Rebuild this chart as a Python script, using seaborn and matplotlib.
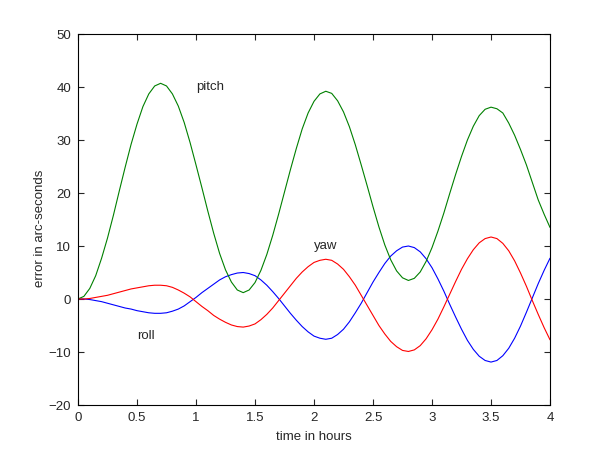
import numpy as np
import pandas as pd
import matplotlib
matplotlib.use("Agg")
import matplotlib.pyplot as plt
import seaborn as sns

# tempo em horas (passo de 0.05 h)
hours = np.linspace(0, 4, 81)

# valores (erro em arc-seconds)
pitch = [0, 0.5, 2.0, 4.4, 7.7, 11.5, 15.8, 20.4, 24.9, 29.2, 33.0, 36.3, 38.7, 40.2, 40.7,
         40.2, 38.7, 36.4, 33.3, 29.5, 25.3, 21.0, 16.6, 12.4, 8.6, 5.5, 3.2, 1.7, 1.2,
         1.7, 3.1, 5.4, 8.4, 12.0, 16.0, 20.2, 24.4, 28.4, 32.1, 35.1, 37.3, 38.7, 39.2,
         38.8, 37.4, 35.3, 32.5, 29.1, 25.3, 21.4, 17.4, 13.6, 10.2, 7.4, 5.3, 4.0, 3.5,
         3.9, 5.1, 7.1, 9.7, 12.8, 16.2, 19.9, 23.5, 26.9, 30.0, 32.6, 34.6, 35.8, 36.2,
         35.9, 35.1, 33.2, 30.9, 28.2, 25.3, 22.0, 18.7, 16.0, 13.5]

yaw = [0, 0.0, 0.1, 0.3, 0.5, 0.7, 1.0, 1.3, 1.6, 1.9, 2.1, 2.3, 2.5, 2.6, 2.6,
       2.5, 2.2, 1.7, 1.1, 0.4, -0.5, -1.4, -2.2, -3.1, -3.8, -4.4, -4.9, -5.2, -5.3,
       -5.1, -4.7, -3.9, -2.9, -1.7, -0.3, 1.1, 2.5, 3.9, 5.1, 6.1, 6.9, 7.3, 7.5,
       7.3, 6.6, 5.6, 4.2, 2.6, 0.7, -1.2, -3.1, -5.0, -6.6, -8.0, -9.0, -9.7, -9.9,
       -9.6, -8.8, -7.5, -5.8, -3.8, -1.5, 0.9, 3.3, 5.6, 7.6, 9.3, 10.6, 11.4, 11.7,
       11.4, 10.5, 9.1, 7.2, 4.9, 2.4, -0.3, -2.9, -5.4, -7.7]

roll = [0, 0.0, -0.1, -0.3, -0.5, -0.8, -1.1, -1.4, -1.7, -1.9, -2.2, -2.4, -2.6, -2.7, -2.7,
        -2.6, -2.3, -1.9, -1.3, -0.5, 0.3, 1.2, 2.0, 2.8, 3.6, 4.2, 4.6, 4.9, 5.0,
        4.8, 4.4, 3.6, 2.6, 1.4, 0.1, -1.3, -2.7, -4.0, -5.2, -6.2, -7.0, -7.4, -7.6,
        -7.4, -6.7, -5.7, -4.3, -2.6, -0.8, 1.2, 3.2, 5.0, 6.7, 8.1, 9.1, 9.8, 10.0,
        9.7, 8.9, 7.6, 5.9, 3.8, 1.5, -1.0, -3.4, -5.7, -7.8, -9.5, -10.8, -11.6, -11.9,
        -11.6, -10.7, -9.3, -7.4, -5.1, -2.5, 0.2, 2.9, 5.4, 7.7]

# rótulos das curvas: (texto, x, y)
labels = [("pitch", 1.0, 40), ("yaw", 2.0, 10), ("roll", 0.5, -7)]

sns.set_style("ticks")
plt.rcParams['font.family'] = ['Liberation Sans', 'DejaVu Sans']
plt.rcParams['xtick.direction'] = 'in'
plt.rcParams['ytick.direction'] = 'in'

df = pd.DataFrame({'hours': np.tile(hours, 3),
                   'error': roll + pitch + yaw,
                   'axis': ['roll'] * 81 + ['pitch'] * 81 + ['yaw'] * 81})

fig = plt.figure(figsize=(6, 4.5), dpi=100)
ax = fig.add_axes([0.13, 0.1, 0.7867, 0.8244])

sns.lineplot(data=df, x='hours', y='error', hue='axis',
             hue_order=['roll', 'pitch', 'yaw'],
             palette={'roll': '#0000ff', 'pitch': '#008000', 'yaw': '#ff0000'},
             linewidth=0.8, legend=False, ax=ax)

fs = 9.5
for txt, x, y in labels:
    ax.text(x, y, txt, fontsize=fs, ha='left', va='center')

ax.set_xlim(0, 4)
ax.set_ylim(-20, 50)
ax.set_xticks(np.arange(0, 4.01, 0.5))
ax.set_xticklabels(['0', '0.5', '1', '1.5', '2', '2.5', '3', '3.5', '4'])
ax.set_yticks(np.arange(-20, 51, 10))
ax.tick_params(top=True, right=True, length=4, width=0.8, labelsize=fs, pad=5)
for s in ax.spines.values():
    s.set_visible(True)
    s.set_linewidth(0.8)
    s.set_color('black')
ax.set_xlabel('time in hours', fontsize=fs, labelpad=5)
ax.set_ylabel('error in arc-seconds', fontsize=fs)
ax.yaxis.set_label_coords(-0.068, 0.477)

fig.savefig('out.png', dpi=100)
